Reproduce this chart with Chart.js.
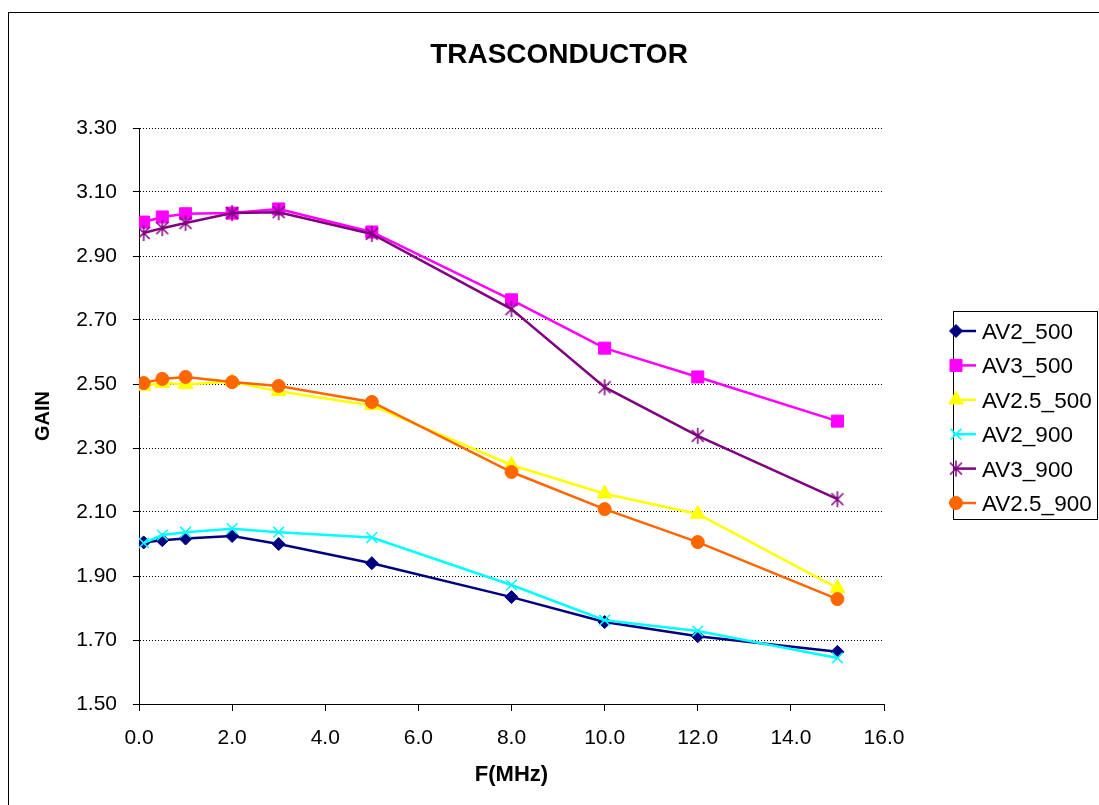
<!DOCTYPE html>
<html>
<head>
<meta charset="utf-8">
<script src="https://cdn.jsdelivr.net/npm/chart.js@4.4.0/dist/chart.umd.min.js"></script>
<style>
  html, body { margin: 0; padding: 0; background: #fff; }
  #wrap { position: relative; width: 1099px; height: 805px; }
</style>
</head>
<body>
<div id="wrap"><canvas id="chart-gain"></canvas></div>
<script>
const freq = [0.1, 0.5, 1, 2, 3, 5, 8, 10, 12, 15];
const av2_500 = [2.005, 2.012, 2.017, 2.025, 2.000, 1.940, 1.834, 1.756, 1.712, 1.663];
const av3_500 = [3.006, 3.022, 3.032, 3.034, 3.047, 2.975, 2.763, 2.612, 2.522, 2.384];
const av25_500 = [2.494, 2.503, 2.499, 2.507, 2.477, 2.433, 2.247, 2.157, 2.094, 1.862];
const av2_900 = [2.003, 2.028, 2.037, 2.048, 2.037, 2.020, 1.872, 1.762, 1.728, 1.644];
const av3_900 = [2.972, 2.987, 3.003, 3.034, 3.037, 2.969, 2.734, 2.490, 2.338, 2.140];
const av25_900 = [2.503, 2.516, 2.522, 2.506, 2.494, 2.444, 2.225, 2.109, 2.006, 1.828];
const seriesNames = [`AV2_500`, `AV3_500`, `AV2.5_500`, `AV2_900`, `AV3_900`, `AV2.5_900`];
const xTicks = [0, 2, 4, 6, 8, 10, 12, 14, 16];
const yTicks = [1.5, 1.7, 1.9, 2.1, 2.3, 2.5, 2.7, 2.9, 3.1, 3.3];

const FONT = `"Liberation Sans", Arial, sans-serif`;

// excel style asterisk: an X with a vertical bar through it
const asterisk = (color, r) => {
  const c = document.createElement('canvas');
  const s = r * 2 + 4;
  c.width = c.height = s;
  const g = c.getContext('2d');
  const m = s / 2;
  const d = r * 0.75;
  g.strokeStyle = color;
  g.lineWidth = 1.5;
  g.beginPath();
  g.moveTo(m, m - r); g.lineTo(m, m + r);
  g.moveTo(m - d, m - d); g.lineTo(m + d, m + d);
  g.moveTo(m + d, m - d); g.lineTo(m - d, m + d);
  g.stroke();
  return c;
};

const styles = [
  { color: '#000080', point: 'rectRot', radius: 6.5, pbw: 1 },
  { color: '#ff00ff', point: 'rect', radius: 8.5, pbw: 1 },
  { color: '#ffff00', point: 'triangle', radius: 8.5, pbw: 1 },
  { color: '#00ffff', point: 'crossRot', radius: 7.5, pbw: 1.5 },
  { color: '#800080', point: asterisk('#800080', 8), radius: 8, pbw: 1.5 },
  { color: '#ff6600', point: 'circle', radius: 6.5, pbw: 1 }
];

const series = [av2_500, av3_500, av25_500, av2_900, av3_900, av25_900];

const datasets = series.map((vals, i) => ({
  label: seriesNames[i],
  data: vals.map((v, j) => ({ x: freq[j], y: v })),
  borderColor: styles[i].color,
  backgroundColor: styles[i].color,
  borderWidth: 2.5,
  pointStyle: styles[i].point,
  pointRadius: styles[i].radius,
  pointHoverRadius: styles[i].radius,
  pointBorderWidth: styles[i].pbw,
  pointBorderColor: styles[i].color,
  pointBackgroundColor: styles[i].color,
  tension: 0,
  order: series.length - i
}));

// title, legend box and outer frame
const decor = {
  id: 'decor',
  afterDraw(chart) {
    const ctx = chart.ctx;
    ctx.save();
    ctx.strokeStyle = '#000';
    ctx.lineWidth = 1;
    ctx.strokeRect(8.5, 12.5, 1300, 1000);

    ctx.fillStyle = '#000';
    ctx.font = `bold 28px ${FONT}`;
    ctx.textAlign = 'center';
    ctx.textBaseline = 'alphabetic';
    ctx.fillText('TRASCONDUCTOR', 559, 63);

    ctx.strokeRect(953.5, 311.5, 144, 208);
    ctx.font = `22.5px ${FONT}`;
    ctx.textAlign = 'left';
    chart.data.datasets.forEach((ds, i) => {
      const yMid = 331 + i * 34.4;
      ctx.strokeStyle = ds.borderColor;
      ctx.lineWidth = 2.5;
      ctx.beginPath();
      ctx.moveTo(953, yMid);
      ctx.lineTo(976, yMid);
      ctx.stroke();
      ctx.fillStyle = ds.pointBackgroundColor;
      ctx.lineWidth = ds.pointBorderWidth;
      Chart.helpers.drawPoint(ctx, {
        pointStyle: ds.pointStyle,
        radius: ds.pointRadius,
        rotation: 0,
        borderWidth: ds.pointBorderWidth
      }, 956, yMid);
      ctx.fillStyle = '#000';
      ctx.fillText(ds.label, 982, yMid + 8);
    });
    ctx.restore();
  }
};

new Chart(document.getElementById('chart-gain'), {
  type: 'line',
  data: { datasets },
  options: {
    responsive: true,
    maintainAspectRatio: false,
    animation: false,
    layout: { padding: { top: 128, right: 215, left: 0, bottom: 0 } },
    plugins: {
      legend: { display: false },
      tooltip: { enabled: false },
      title: { display: false }
    },
    scales: {
      x: {
        type: 'linear',
        min: 0,
        max: 16,
        afterBuildTicks: s => { s.ticks = xTicks.map(v => ({ value: v })); },
        afterFit: s => { s.height = 101; },
        grid: { drawOnChartArea: false, drawTicks: true, tickLength: 7, color: '#000' },
        border: { display: true, color: '#000', width: 1 },
        ticks: {
          color: '#000',
          font: { family: FONT, size: 21 },
          padding: 15,
          maxRotation: 0,
          callback: v => Number(v).toFixed(1)
        },
        title: {
          display: true,
          text: 'F(MHz)',
          color: '#000',
          font: { family: FONT, size: 22, weight: 'bold' },
          padding: { top: 0, bottom: 17 }
        }
      },
      y: {
        min: 1.5,
        max: 3.3,
        afterBuildTicks: s => { s.ticks = yTicks.map(v => ({ value: v })); },
        afterFit: s => { s.width = 139; },
        grid: { color: '#000', lineWidth: 1, drawTicks: true, tickLength: 6, tickColor: '#000' },
        border: { display: true, color: '#000', width: 1, dash: [1, 2] },
        ticks: {
          color: '#000',
          font: { family: FONT, size: 21 },
          padding: 16,
          callback: v => Number(v).toFixed(2)
        },
        title: {
          display: true,
          text: 'GAIN',
          color: '#000',
          font: { family: FONT, size: 20, weight: 'bold' },
          padding: { top: 31, bottom: 0 }
        }
      }
    }
  },
  plugins: [decor]
});
</script>
</body>
</html>
